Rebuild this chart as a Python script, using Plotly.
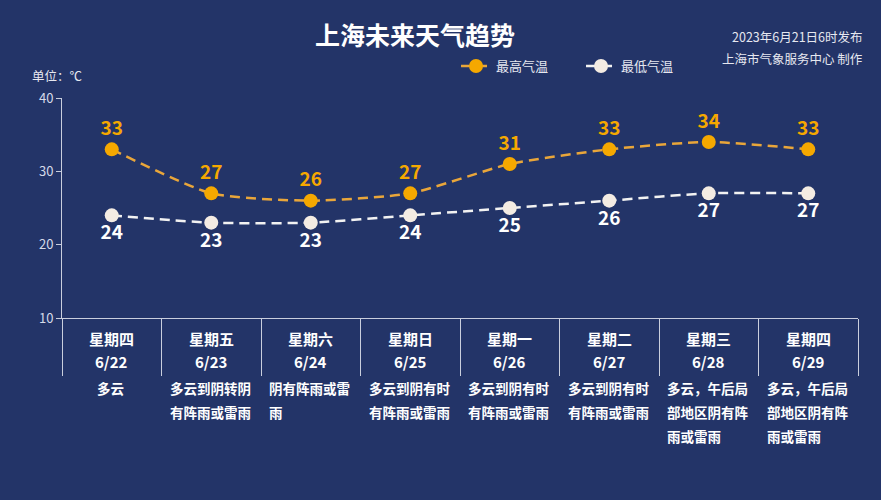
import plotly.graph_objects as go

# ---- data ----
dates = ["6/22", "6/23", "6/24", "6/25", "6/26", "6/27", "6/28", "6/29"]
weekdays = ["星期四", "星期五", "星期六", "星期日", "星期一", "星期二", "星期三", "星期四"]
high_temp = [33, 27, 26, 27, 31, 33, 34, 33]
low_temp = [24, 23, 23, 24, 25, 26, 27, 27]
weather = [
    ["多云"],
    ["多云到阴转阴", "有阵雨或雷雨"],
    ["阴有阵雨或雷", "雨"],
    ["多云到阴有时", "有阵雨或雷雨"],
    ["多云到阴有时", "有阵雨或雷雨"],
    ["多云到阴有时", "有阵雨或雷雨"],
    ["多云，午后局", "部地区阴有阵", "雨或雷雨"],
    ["多云，午后局", "部地区阴有阵", "雨或雷雨"],
]
title_text = "上海未来天气趋势"
issue_text = "2023年6月21日6时发布"
maker_text = "上海市气象服务中心 制作"
unit_text = "单位：℃"

FONT = "Noto Sans CJK SC, Noto Sans, sans-serif"
BG = "#233468"
ORANGE = "#F5A800"
ORANGE_LINE = "#E9A63A"
CREAM = "#F4ECE3"
AXIS = "#C9CEDD"

fig = go.Figure()
fig.add_trace(go.Scatter(
    x=dates, y=high_temp, name="最高气温", mode="lines+markers+text",
    line=dict(color=ORANGE_LINE, width=2.5, dash="10px,6px", shape="spline", smoothing=0.6),
    marker=dict(color=ORANGE, size=14),
    text=[str(v) for v in high_temp], textposition="top center",
    textfont=dict(family=FONT, size=19, color=ORANGE, weight="bold"),
    cliponaxis=False,
))
fig.add_trace(go.Scatter(
    x=dates, y=low_temp, name="最低气温", mode="lines+markers+text",
    line=dict(color="#F2F2F2", width=2.5, dash="10px,6px", shape="spline", smoothing=0.6),
    marker=dict(color=CREAM, size=14),
    text=[str(v) for v in low_temp], textposition="bottom center",
    textfont=dict(family=FONT, size=19, color="white", weight="bold"),
    cliponaxis=False,
))

annotations = []
# day / date labels under the axis
for d, wd in zip(dates, weekdays):
    annotations.append(dict(x=d, xref="x", y=0, yref="paper", yshift=-20, yanchor="middle",
                            text=wd, showarrow=False,
                            font=dict(family=FONT, size=15, color="white", weight="bold")))
    annotations.append(dict(x=d, xref="x", y=0, yref="paper", yshift=-43, yanchor="middle",
                            text=d, showarrow=False,
                            font=dict(family=FONT, size=15, color="white", weight="bold")))
# weather description lines
WFS = 13.5
for d, lines in zip(dates, weather):
    w0 = len(lines[0]) * WFS
    for i, ln in enumerate(lines):
        annotations.append(dict(x=d, xref="x", y=0, yref="paper", yshift=-(70 + 24 * i),
                                yanchor="middle", xanchor="left", xshift=-w0 / 2 - 3,
                                text=ln, showarrow=False,
                                font=dict(family=FONT, size=WFS, color="white", weight="bold")))

annotations += [
    dict(x=1.0088, xref="paper", y=1.2818, yref="paper", xanchor="right", yanchor="middle",
         text=issue_text, showarrow=False, font=dict(family=FONT, size=12.5, color="#E6E8F0")),
    dict(x=1.0088, xref="paper", y=1.1818, yref="paper", xanchor="right", yanchor="middle",
         text=maker_text, showarrow=False, font=dict(family=FONT, size=12.5, color="#E6E8F0")),
    dict(x=-0.0402, xref="paper", y=1.1045, yref="paper", xanchor="left", yanchor="middle",
         text=unit_text, showarrow=False, font=dict(family=FONT, size=12.5, color="#E6E8F0")),
]

fig.update_layout(
    width=881, height=500,
    paper_bgcolor=BG, plot_bgcolor=BG,
    margin=dict(l=62, r=23, t=98, b=182),
    title=dict(text=title_text, x=0.471, y=0.928, xanchor="center", yanchor="middle",
               font=dict(family=FONT, size=25, color="white", weight="bold")),
    showlegend=True,
    legend=dict(orientation="h", x=0.495, y=1.145, xanchor="left", yanchor="middle",
                bgcolor="rgba(0,0,0,0)", font=dict(family=FONT, size=13, color="#E6E8F0"),
                entrywidth=80, entrywidthmode="pixels", itemclick=False),
    annotations=annotations,
    xaxis=dict(type="category", range=[-0.5, 7.5], showline=True, linecolor=AXIS, linewidth=1,
               ticks="outside", ticklen=57, tickcolor=AXIS, tickwidth=1, tickson="boundaries",
               showticklabels=False, showgrid=False, zeroline=False, fixedrange=True),
    yaxis=dict(range=[10, 40], dtick=10, showline=True, linecolor=AXIS, linewidth=1,
               ticks="outside", ticklen=5, tickcolor=AXIS,
               tickfont=dict(family=FONT, size=13, color="#D5DAE8"),
               showgrid=False, zeroline=False, fixedrange=True),
)

fig.write_html(
    "out.html",
    config={"displayModeBar": False},
    post_script="document.body.style.margin='0';document.body.style.overflow='hidden';"
                "document.body.style.background='" + BG + "';",
)
